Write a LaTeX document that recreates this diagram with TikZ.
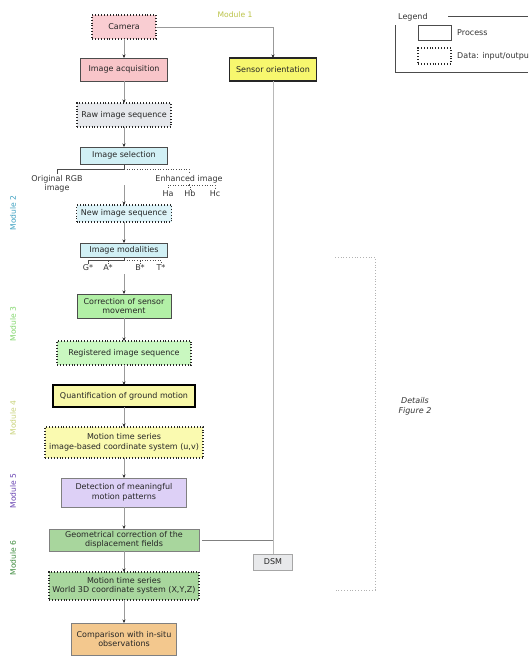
\documentclass[tikz,border=0pt]{standalone}
\usepackage{fontspec}
\setmainfont{DejaVu Sans}
\usetikzlibrary{positioning, arrows.meta}

\definecolor{campink}{HTML}{F9CDD2}
\definecolor{acqpink}{HTML}{F8C5C9}
\definecolor{sensyellow}{HTML}{F7F76E}
\definecolor{rawgrey}{HTML}{E6E8EC}
\definecolor{selblue}{HTML}{D1F0F5}
\definecolor{newblue}{HTML}{DDF3F8}
\definecolor{corrgreen}{HTML}{B2F0A6}
\definecolor{reggreen}{HTML}{C9F8C0}
\definecolor{quantyellow}{HTML}{F8F8A8}
\definecolor{uvyellow}{HTML}{FAFAB0}
\definecolor{detpurple}{HTML}{DDD0F6}
\definecolor{geomgreen}{HTML}{A8D69D}
\definecolor{comporange}{HTML}{F3C88E}
\definecolor{dsmgrey}{HTML}{E8E9EB}
\definecolor{modone}{HTML}{BAC245}
\definecolor{modtwo}{HTML}{3A9FC0}
\definecolor{modthree}{HTML}{80D66A}
\definecolor{modfour}{HTML}{C8D27A}
\definecolor{modfive}{HTML}{6540B0}
\definecolor{modsix}{HTML}{3D8B3D}

\tikzset{
	proc/.style={draw=black!70, line width=0.9pt, inner sep=1.5pt, outer sep=0pt, align=center, text=black!85, font=\fontsize{8}{9.5}\selectfont},
	data/.style={proc, dotted, draw=black!85, line width=1.2pt},
	lbl/.style={inner sep=1pt, text=black!80, align=center, font=\fontsize{8}{9.5}\selectfont},
	modlbl/.style={inner sep=0pt, rotate=90, font=\fontsize{7.6}{9}\selectfont},
	arr/.style={draw=black!40, line width=0.9pt, -{Stealth[length=3.5pt, width=3pt, color=black!85]}},
	link/.style={draw=black!70, line width=0.6pt},
	dotlink/.style={link, dotted, line width=0.8pt},
	sideline/.style={draw=black!28, line width=0.9pt},
}

\begin{document}
\begin{tikzpicture}[x=1pt, y=1pt]
	\useasboundingbox (0,0) rectangle (528,-659);

	\node[data, fill=campink, minimum width=64pt, minimum height=24pt] (cam) at (124,-27) {Camera};
	\node[proc, fill=acqpink, minimum width=87pt, minimum height=23pt, below=19pt of cam] (acq) {Image acquisition};
	\node[proc, fill=sensyellow, draw=black!85, line width=1.2pt, minimum width=87pt, minimum height=23pt, right=62pt of acq] (sens) {Sensor orientation};
	\node[data, fill=rawgrey, minimum width=94pt, minimum height=24pt, below=22pt of acq] (raw) {Raw image sequence};
	\node[proc, fill=selblue, minimum width=87pt, minimum height=17pt, below=20pt of raw] (sel) {Image selection};
	\node[data, fill=newblue, minimum width=95pt, minimum height=17pt, below=41pt of sel] (newseq) {New image sequence};
	\node[proc, fill=selblue, minimum width=87pt, minimum height=14pt, below=21pt of newseq] (mod) {Image modalities};
	\node[proc, fill=corrgreen, minimum width=94pt, minimum height=24pt, below=37pt of mod] (corr) {Correction of sensor\\movement};
	\node[data, fill=reggreen, minimum width=134pt, minimum height=24pt, below=23pt of corr] (reg) {Registered image sequence};
	\node[proc, fill=quantyellow, draw=black, line width=1.3pt, minimum width=142pt, minimum height=22pt, below=20pt of reg] (quant) {Quantification of ground motion};
	\node[data, fill=uvyellow, minimum width=158pt, minimum height=31pt, below=20pt of quant] (motuv) {Motion time series\\image-based coordinate system (u,v)};
	\node[proc, fill=detpurple, draw=black!50, minimum width=125pt, minimum height=29pt, below=20pt of motuv] (detect) {Detection of meaningful\\motion patterns};
	\node[proc, fill=geomgreen, draw=black!50, minimum width=150pt, minimum height=22pt, below=22pt of detect] (geom) {Geometrical correction of the\\displacement fields};
	\node[data, fill=geomgreen, minimum width=150pt, minimum height=28pt, below=21pt of geom] (mot3d) {Motion time series\\World 3D coordinate system (X,Y,Z)};
	\node[proc, fill=comporange, draw=black!50, minimum width=105pt, minimum height=32pt, below=23pt of mot3d] (comp) {Comparison with in-situ\\observations};

	\coordinate (dsmtop) at (sens.south |- geom.south);
	\node[proc, fill=dsmgrey, draw=black!35, line width=0.6pt, minimum width=39pt, minimum height=16pt, below=3pt of dsmtop] (dsm) {DSM};

	\node[lbl] (rgb) at (57,-184) {Original RGB\\image};
	\node[lbl] (enh) at (189,-179) {Enhanced image};
	\node[lbl] (ha) at (168,-194) {Ha};
	\node[lbl] (hb) at (190,-194) {Hb};
	\node[lbl] (hc) at (215,-194) {Hc};
	\node[lbl] (gs) at (88,-268) {G*};
	\node[lbl] (as) at (108,-268) {A*};
	\node[lbl] (bs) at (140,-268) {B*};
	\node[lbl] (ts) at (161,-268) {T*};

	\node[modlbl, text=modone, rotate=-90] (m1) at (235,-15) {Module 1};
	\node[modlbl, text=modtwo] (m2) at (13,-213) {Module 2};
	\node[modlbl, text=modthree] (m3) at (13,-324) {Module 3};
	\node[modlbl, text=modfour] (m4) at (13,-418) {Module 4};
	\node[modlbl, text=modfive] (m5) at (13,-491) {Module 5};
	\node[modlbl, text=modsix] (m6) at (13,-558) {Module 6};

	\coordinate (selout) at ([yshift=-21pt]sel.south);
	\coordinate (modout) at ([yshift=-17pt]mod.south);

	\draw[arr] (cam) -- (acq);
	\draw[arr] (acq) -- (raw);
	\draw[arr] (raw) -- (sel);
	\draw[arr] (selout) -- (newseq);
	\draw[arr] (newseq) -- (mod);
	\draw[arr] (modout) -- (corr);
	\draw[arr] (corr) -- (reg);
	\draw[arr] (reg) -- (quant);
	\draw[arr] (quant) -- (motuv);
	\draw[arr] (motuv) -- (detect);
	\draw[arr] (detect) -- (geom);
	\draw[arr] (geom) -- (mot3d);
	\draw[arr] (mot3d) -- (comp);
	\draw[arr] (cam.east) -| (sens.north);

	\draw[sideline] (sens) -- (dsm);
	\draw[sideline, draw=black!50, line width=0.7pt, shorten <=3pt] (geom.east) -- (geom.east -| dsm.north);

	\draw[link] (sel.south) -- ++(0,-5) coordinate (selj);
	\draw[link] (selj) -| (rgb.north);
	\draw[dotlink] (selj) -| (enh.north);
	\draw[dotlink] (enh.south) -- ++(0,-1) coordinate (enhj);
	\draw[dotlink] (enhj) -| (ha.north);
	\draw[dotlink] (enhj) -| (hc.north);
	\draw[dotlink] (enhj) -- (enhj -| hb.north) -- (hb.north);

	\draw[link] (mod.south) -- ++(0,-3) coordinate (modj);
	\draw[link] (modj) -| (gs.north);
	\draw[dotlink] (modj) -| (ts.north);
	\draw[dotlink] (as.north) -- (as.north |- modj);
	\draw[dotlink] (bs.north) -- (bs.north |- modj);

	\draw[dotted, draw=black!30, line width=0.8pt] (335,-257) -- (375,-257) -- (375,-590) -- (335,-590);
	\node[lbl, font=\fontsize{8}{10}\itshape] (det) at (415,-406) {Details\\Figure 2};

	\node[lbl, anchor=west] (leg) at (397,-17) {Legend};
	\draw[black!70, line width=0.6pt] (448,-16) -- (528,-16);
	\draw[black!70, line width=0.6pt] (395,-25) -- (395,-72) -- (528,-72);
	\node[proc, fill=none, minimum width=33pt, minimum height=15pt] (lproc) at (434.5,-32.5) {};
	\node[lbl, anchor=west, right=5pt of lproc] (lproct) {Process};
	\node[data, fill=none, minimum width=33pt, minimum height=16pt] (ldata) at (434.5,-56) {};
	\node[lbl, anchor=west, right=5pt of ldata] (ldatat) {Data: input/output};
\end{tikzpicture}
\end{document}
